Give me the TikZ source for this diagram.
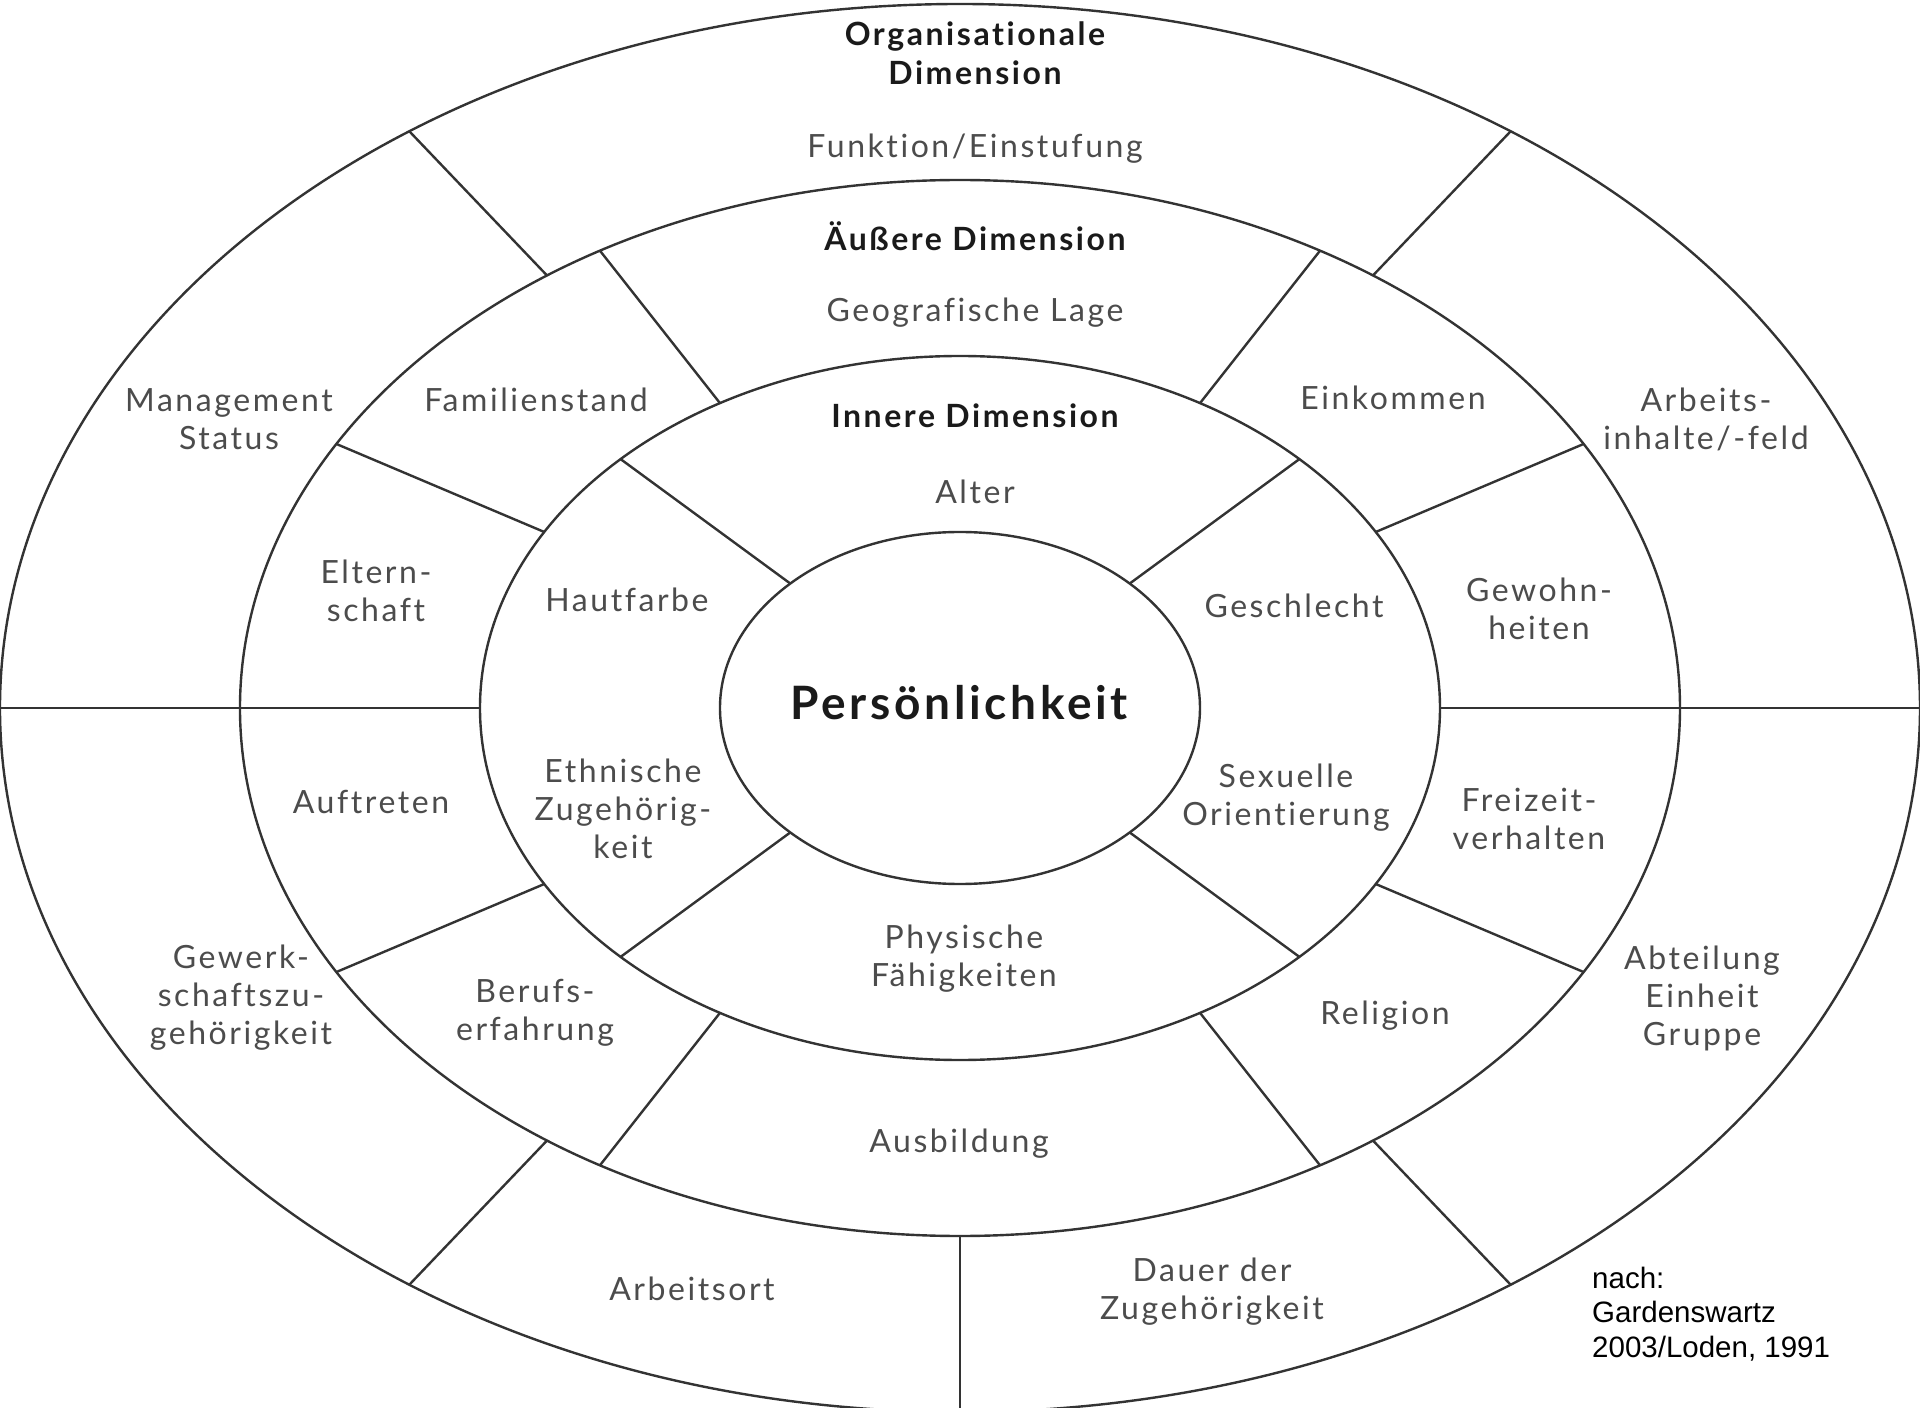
\documentclass[tikz,border=0pt]{standalone}
\usepackage{fontspec}
\setmainfont{Lato}[LetterSpace=8, Ligatures=NoCommon]
\newfontfamily\notefont{Liberation Sans}
\definecolor{lncol}{HTML}{333333}
\definecolor{txcol}{HTML}{4C4C4C}
\definecolor{hdcol}{HTML}{1A1A1A}
\tikzset{
  ln/.style={draw=lncol, line width=2.4pt},
  txt/.style={text=txcol, align=center, inner sep=0pt, font=\fontsize{32}{38}\selectfont},
  hd/.style={text=hdcol, align=center, inner sep=0pt, font=\fontsize{32}{39}\selectfont\bfseries},
  core/.style={text=hdcol, align=center, inner sep=0pt, font=\fontsize{46}{50}\selectfont\bfseries},
  note/.style={text=black, inner sep=0pt, anchor=base west, font=\notefont\fontsize{29.5}{34.5}\selectfont}
}
\begin{document}
\begin{tikzpicture}[x=1pt,y=1pt]
\def\rx{240}\def\ry{176}
\useasboundingbox[fill=white] (-960,-700) rectangle (960,708);
% ellipses
\foreach \k in {1,2,3,4}
  \draw[ln] (0,0) ellipse [x radius={\k*\rx}, y radius={\k*\ry}];
% inner ring dividers
\foreach \a in {45,135,225,315}
  \draw[ln] ({\rx*cos(\a)},{\ry*sin(\a)}) -- ({2*\rx*cos(\a)},{2*\ry*sin(\a)});
% middle ring dividers
\foreach \a in {0,30,60,120,150,180,210,240,300,330}
  \draw[ln] ({2*\rx*cos(\a)},{2*\ry*sin(\a)}) -- ({3*\rx*cos(\a)},{3*\ry*sin(\a)});
% outer ring dividers
\foreach \a in {0,55,125,180,235,270,305}
  \draw[ln] ({3*\rx*cos(\a)},{3*\ry*sin(\a)}) -- ({4*\rx*cos(\a)},{4*\ry*sin(\a)});
% texts
\node[hd] (org) at (15,655) {Organisationale\\Dimension};
\node[txt] (funk) at (15,559) {Funktion/Einstufung};
\node[hd] (aus) at (15,472) {Äußere Dimension};
\node[txt] (geo) at (15,395) {Geografische Lage};
\node[hd] (inn) at (15,292) {Innere Dimension};
\node[txt] (alter) at (15,216) {Alter};
\node[core] (pers) at (-1,5) {Persönlichkeit};
\node[txt] (haut) at (-333,108) {Hautfarbe};
\node[txt] (ethn) at (-337,-101) {Ethnische\\Zugehörig-\\keit};
\node[txt] (geschl) at (334,102) {Geschlecht};
\node[txt] (sex) at (326,-90) {Sexuelle\\Orientierung};
\node[txt] (phys) at (4,-251) {Physische\\Fähigkeiten};
\node[txt] (fam) at (-424,308) {Familienstand};
\node[txt] (eltern) at (-584,117) {Eltern-\\schaft};
\node[txt] (auft) at (-589,-94) {Auftreten};
\node[txt] (beruf) at (-425,-305) {Berufs-\\erfahrung};
\node[txt] (ausb) at (-1,-436) {Ausbildung};
\node[txt] (rel) at (425,-308) {Religion};
\node[txt] (frei) at (569,-111) {Freizeit-\\verhalten};
\node[txt] (gew) at (579,99) {Gewohn-\\heiten};
\node[txt] (eink) at (433,310) {Einkommen};
\node[txt] (mgmt) at (-731,289) {Management\\Status};
\node[txt] (arb) at (746,289) {Arbeits-\\inhalte/-feld};
\node[txt] (gewerk) at (-719,-290) {Gewerk-\\schaftszu-\\gehörigkeit};
\node[txt] (abt) at (742,-290) {Abteilung\\Einheit\\Gruppe};
\node[txt] (ort) at (-268,-581) {Arbeitsort};
\node[txt] (dauer) at (252,-584) {Dauer der\\Zugehörigkeit};
\node[note] (n1) at (632,-580.3) {nach:};
\node[note] (n2) at (632,-614.7) {Gardenswartz};
\node[note] (n3) at (632,-649.3) {2003/Loden, 1991};
\end{tikzpicture}
\end{document}
